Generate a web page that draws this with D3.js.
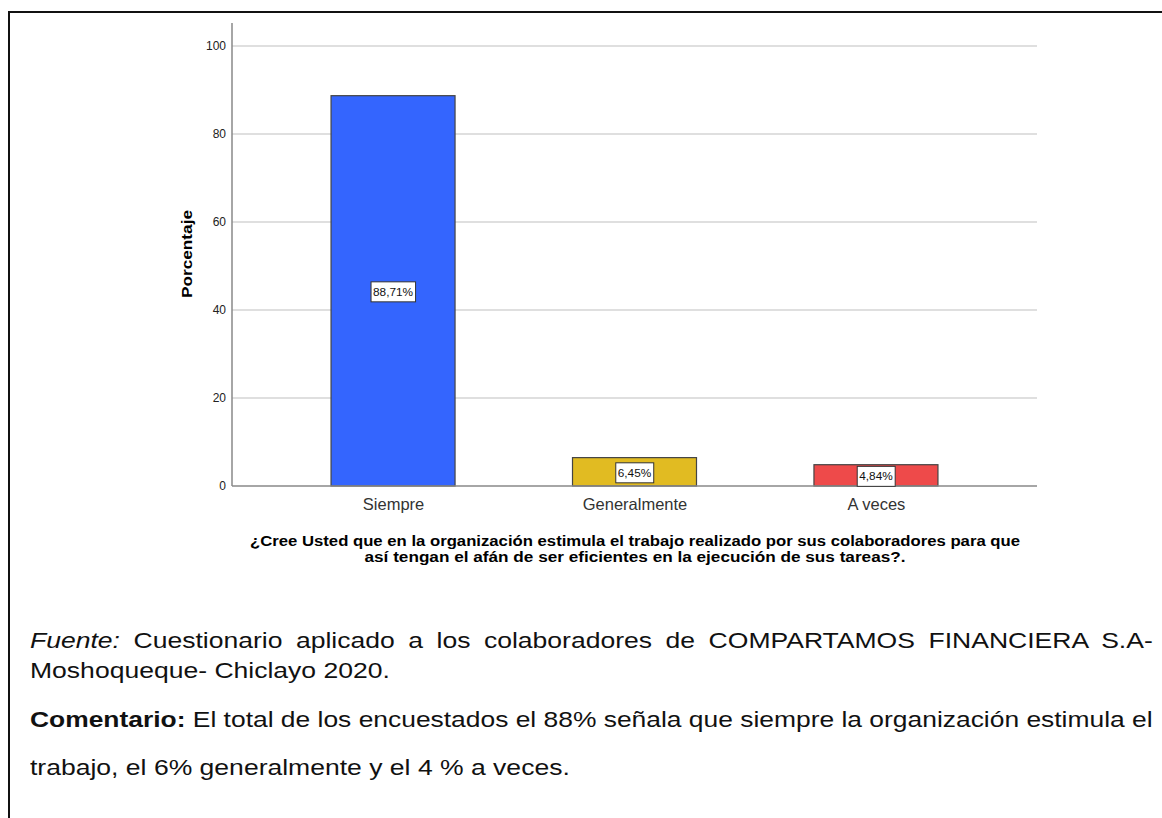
<!DOCTYPE html>
<html><head><meta charset="utf-8">
<script src="https://cdn.jsdelivr.net/npm/d3@7"></script>
<style>
html,body{margin:0;padding:0;background:#fff;}
body{width:1162px;height:818px;overflow:hidden;position:relative;font-family:Arial,"Liberation Sans",sans-serif;}
.frame{position:absolute;left:8px;top:11px;width:1170px;height:820px;border-left:2px solid #111;border-top:2px solid #111;box-sizing:border-box;}
.foot{position:absolute;left:30px;width:931px;font-size:22px;line-height:25px;color:#111;white-space:nowrap;transform:scaleX(1.206);transform-origin:0 0;}
.just{text-align:justify;text-align-last:justify;white-space:normal;}
#com{width:auto;}
</style>
</head><body>
<div class="frame"></div>
<svg id="chart" width="1162" height="600" style="position:absolute;left:0;top:0"></svg>
<div class="foot just" style="top:628px"><i>Fuente:</i> Cuestionario aplicado a los colaboradores de COMPARTAMOS FINANCIERA S.A-</div>
<div class="foot" style="top:658px">Moshoqueque- Chiclayo 2020.</div>
<div class="foot" id="com" style="top:707px"><b>Comentario:</b> El total de los encuestados el 88% señala que siempre la organización estimula el</div>
<div class="foot" style="top:755px">trabajo, el 6% generalmente y el 4 % a veces.</div>
<script>
const categories = ["Siempre", "Generalmente", "A veces"];
const values = [88.71, 6.45, 4.84];
const valueLabels = ["88,71%", "6,45%", "4,84%"];
const barColors = ["#3465FE", "#E1BB22", "#EE4A4A"];
const yTicks = [0, 20, 40, 60, 80, 100];
const yTitle = "Porcentaje";
const xTitleLines = [
  "¿Cree Usted que en la organización estimula el trabajo realizado por sus colaboradores para que",
  "así tengan el afán de ser eficientes en la ejecución de sus tareas?."
];

const FONT = "Arial, 'Liberation Sans', sans-serif";
const svg = d3.select("#chart");
const x0 = 232, x1 = 1037, yBottom = 486, yTopVal = 46, yAxisTop = 23;
const x = d3.scalePoint().domain(categories).range([x0, x1]).padding(0.667);
const y = d3.scaleLinear().domain([0, 100]).range([yBottom, yTopVal]);
const barW = 124;

// gridlines
svg.append("g").selectAll("line").data(yTicks.filter(d => d > 0)).join("line")
  .attr("x1", x0).attr("x2", x1).attr("y1", d => y(d)).attr("y2", d => y(d))
  .attr("stroke", "#d4d4d4").attr("stroke-width", 1.5);

// y axis
const yAxis = d3.axisLeft(y).tickValues(yTicks).tickSize(0).tickPadding(6);
const gy = svg.append("g").attr("transform", `translate(${x0},0)`).call(yAxis);
gy.select(".domain").remove();
gy.selectAll("text").attr("font-family", FONT).attr("font-size", 12).attr("fill", "#222");
svg.append("line").attr("x1", x0).attr("x2", x0).attr("y1", yAxisTop).attr("y2", yBottom)
  .attr("stroke", "#888").attr("stroke-width", 1.5);

// bars
svg.append("g").selectAll("rect").data(categories).join("rect")
  .attr("x", d => x(d) - barW / 2).attr("width", barW)
  .attr("y", (d, i) => y(values[i])).attr("height", (d, i) => y(0) - y(values[i]))
  .attr("fill", (d, i) => barColors[i]).attr("stroke", "#444").attr("stroke-width", 1.2);

// x axis baseline
svg.append("line").attr("x1", x0).attr("x2", x1).attr("y1", yBottom).attr("y2", yBottom)
  .attr("stroke", "#888").attr("stroke-width", 1.5);

// x axis labels
const xAxis = d3.axisBottom(x).tickSize(0).tickPadding(0);
const gx = svg.append("g").attr("transform", `translate(0,${yBottom})`).call(xAxis);
gx.select(".domain").remove();
gx.selectAll("text").attr("dy", null).attr("y", 24).attr("font-family", FONT).attr("font-size", 16.5).attr("fill", "#333");

// value labels
const lab = svg.append("g").selectAll("g").data(categories).join("g")
  .attr("transform", (d, i) => `translate(${x(d)},${(y(values[i]) + y(0)) / 2 + 1})`);
lab.each(function(d, i) {
  const g = d3.select(this);
  const t = g.append("text").text(valueLabels[i]).attr("text-anchor", "middle").attr("dy", "0.35em")
    .attr("font-family", FONT).attr("font-size", 11.8).attr("fill", "#111");
  const bb = t.node().getBBox();
  g.insert("rect", "text").attr("x", bb.x - 2).attr("y", -10).attr("width", bb.width + 4).attr("height", 20)
    .attr("fill", "#fff").attr("stroke", "#333").attr("stroke-width", 1);
});

// y title
svg.append("text").text(yTitle).attr("transform", "translate(192,254) rotate(-90)")
  .attr("text-anchor", "middle").attr("font-family", FONT)
  .attr("font-size", 15).attr("font-weight", "bold").attr("fill", "#000")
  .attr("textLength", 88).attr("lengthAdjust", "spacingAndGlyphs");

// x title
const titleWidths = [770, 541];
svg.append("g").selectAll("text").data(xTitleLines).join("text")
  .attr("x", 635).attr("y", (d, i) => 546 + i * 16).attr("text-anchor", "middle")
  .attr("font-family", FONT).attr("font-size", 14.5).attr("font-weight", "bold").attr("fill", "#000")
  .attr("textLength", (d, i) => titleWidths[i]).attr("lengthAdjust", "spacingAndGlyphs")
  .text(d => d);

// fit the comment line to the text block width (30 → 1152)
const com = document.getElementById("com");
const natural = com.scrollWidth;
com.style.transform = `scaleX(${1122 / natural})`;
</script>
</body></html>
